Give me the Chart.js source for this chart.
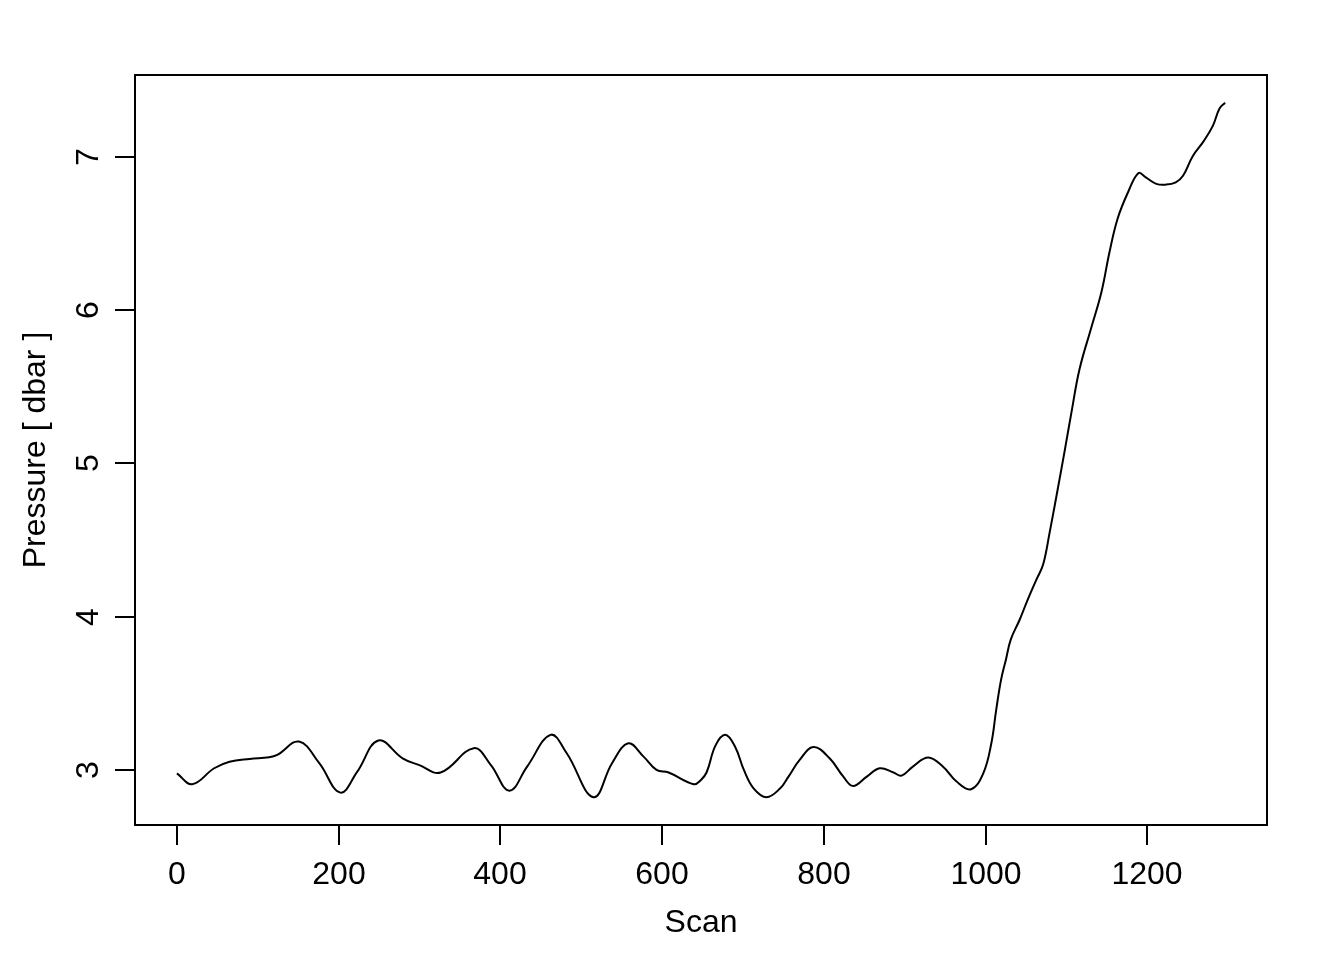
<!DOCTYPE html>
<html>
<head>
<meta charset="utf-8">
<script src="https://cdn.jsdelivr.net/npm/chart.js@4.4.1/dist/chart.umd.min.js"></script>
<style>
html, body { margin: 0; padding: 0; background: #ffffff; }
#wrap { width: 1344px; height: 960px; }
</style>
</head>
<body>
<div id="wrap"><canvas id="c" width="1344" height="960"></canvas></div>
<script>
// Scan numbers and pressure values
const scan = [0, 19, 46, 65, 90, 114, 124, 151, 176, 202, 223, 249, 279, 299, 326, 367, 388, 411, 433, 462,
  482, 515, 538, 558, 577, 593, 608, 639, 648, 655, 666, 678, 690, 701, 713, 729, 746, 756, 770, 787,
  807, 824, 836, 853, 869, 886, 896, 910, 929, 947, 964, 982, 997, 1007, 1013, 1019, 1025, 1031, 1042, 1052,
  1063, 1071, 1079, 1089, 1098, 1106, 1116, 1130, 1143, 1153, 1163, 1176, 1189, 1198, 1211, 1223, 1235, 1244,
  1256, 1270, 1281, 1289, 1296];
const pressure = [2.978, 2.907, 3.011, 3.054, 3.072, 3.083, 3.098, 3.185, 3.044, 2.852, 2.989, 3.192, 3.076, 3.033, 2.983, 3.142, 3.033, 2.865, 3.022, 3.229,
  3.109, 2.822, 3.044, 3.174, 3.087, 3.000, 2.983, 2.907, 2.935, 2.985, 3.160, 3.229, 3.153, 3.000, 2.880, 2.822, 2.880, 2.955, 3.065, 3.150,
  3.076, 2.956, 2.895, 2.956, 3.011, 2.983, 2.963, 3.022, 3.081, 3.022, 2.924, 2.874, 2.978, 3.174, 3.392, 3.588, 3.719, 3.850, 3.980, 4.111,
  4.245, 4.340, 4.547, 4.830, 5.092, 5.331, 5.614, 5.876, 6.115, 6.376, 6.595, 6.769, 6.895, 6.866, 6.824, 6.819, 6.834, 6.877,
  7.004, 7.106, 7.204, 7.314, 7.353];
const xTicks = [0, 200, 400, 600, 800, 1000, 1200];
const yTicks = [3, 4, 5, 6, 7];
const xTitle = 'Scan';
const yTitle = 'Pressure [ dbar ]';

const points = scan.map((s, i) => ({ x: s, y: pressure[i] }));

// R-style 4% range extension
function extRange(arr) {
  const lo = Math.min(...arr), hi = Math.max(...arr);
  const d = (hi - lo) * 0.04;
  return [lo - d, hi + d];
}
const xr = extRange(scan);
const yr = extRange(pressure);

const FONT = '32px "Liberation Sans", Arial, Helvetica, sans-serif';

const rAxes = {
  id: 'rAxes',
  afterDraw(chart) {
    const ctx = chart.ctx;
    const a = chart.chartArea;
    const xs = chart.scales.x, ys = chart.scales.y;
    ctx.save();
    ctx.strokeStyle = '#000';
    ctx.fillStyle = '#000';
    ctx.lineWidth = 2;
    ctx.strokeRect(a.left, a.top, a.right - a.left, a.bottom - a.top);
    ctx.font = FONT;
    // x ticks
    ctx.textAlign = 'center';
    ctx.textBaseline = 'alphabetic';
    xTicks.forEach(v => {
      const px = Math.round(xs.getPixelForValue(v));
      ctx.beginPath();
      ctx.moveTo(px, a.bottom);
      ctx.lineTo(px, a.bottom + 20);
      ctx.stroke();
      ctx.fillText(String(v), px, a.bottom + 59);
    });
    // y ticks
    yTicks.forEach(v => {
      const py = Math.round(ys.getPixelForValue(v));
      ctx.beginPath();
      ctx.moveTo(a.left - 20, py);
      ctx.lineTo(a.left, py);
      ctx.stroke();
      ctx.save();
      ctx.translate(a.left - 37, py);
      ctx.rotate(-Math.PI / 2);
      ctx.fillText(String(v), 0, 0);
      ctx.restore();
    });
    // titles
    ctx.fillText(xTitle, (a.left + a.right) / 2, a.bottom + 107);
    ctx.save();
    ctx.translate(a.left - 90, (a.top + a.bottom) / 2);
    ctx.rotate(-Math.PI / 2);
    ctx.fillText(yTitle, 0, 0);
    ctx.restore();
    ctx.restore();
  }
};

new Chart(document.getElementById('c'), {
  type: 'line',
  data: {
    datasets: [{
      data: points,
      borderColor: '#000000',
      borderWidth: 2,
      pointRadius: 0,
      fill: false,
      tension: 0.4
    }]
  },
  options: {
    responsive: false,
    animation: false,
    devicePixelRatio: 1,
    layout: { padding: { left: 135, top: 75, right: 77, bottom: 135 } },
    plugins: { legend: { display: false }, tooltip: { enabled: false } },
    scales: {
      x: { type: 'linear', display: false, min: xr[0], max: xr[1] },
      y: { type: 'linear', display: false, min: yr[0], max: yr[1] }
    }
  },
  plugins: [rAxes]
});
</script>
</body>
</html>
